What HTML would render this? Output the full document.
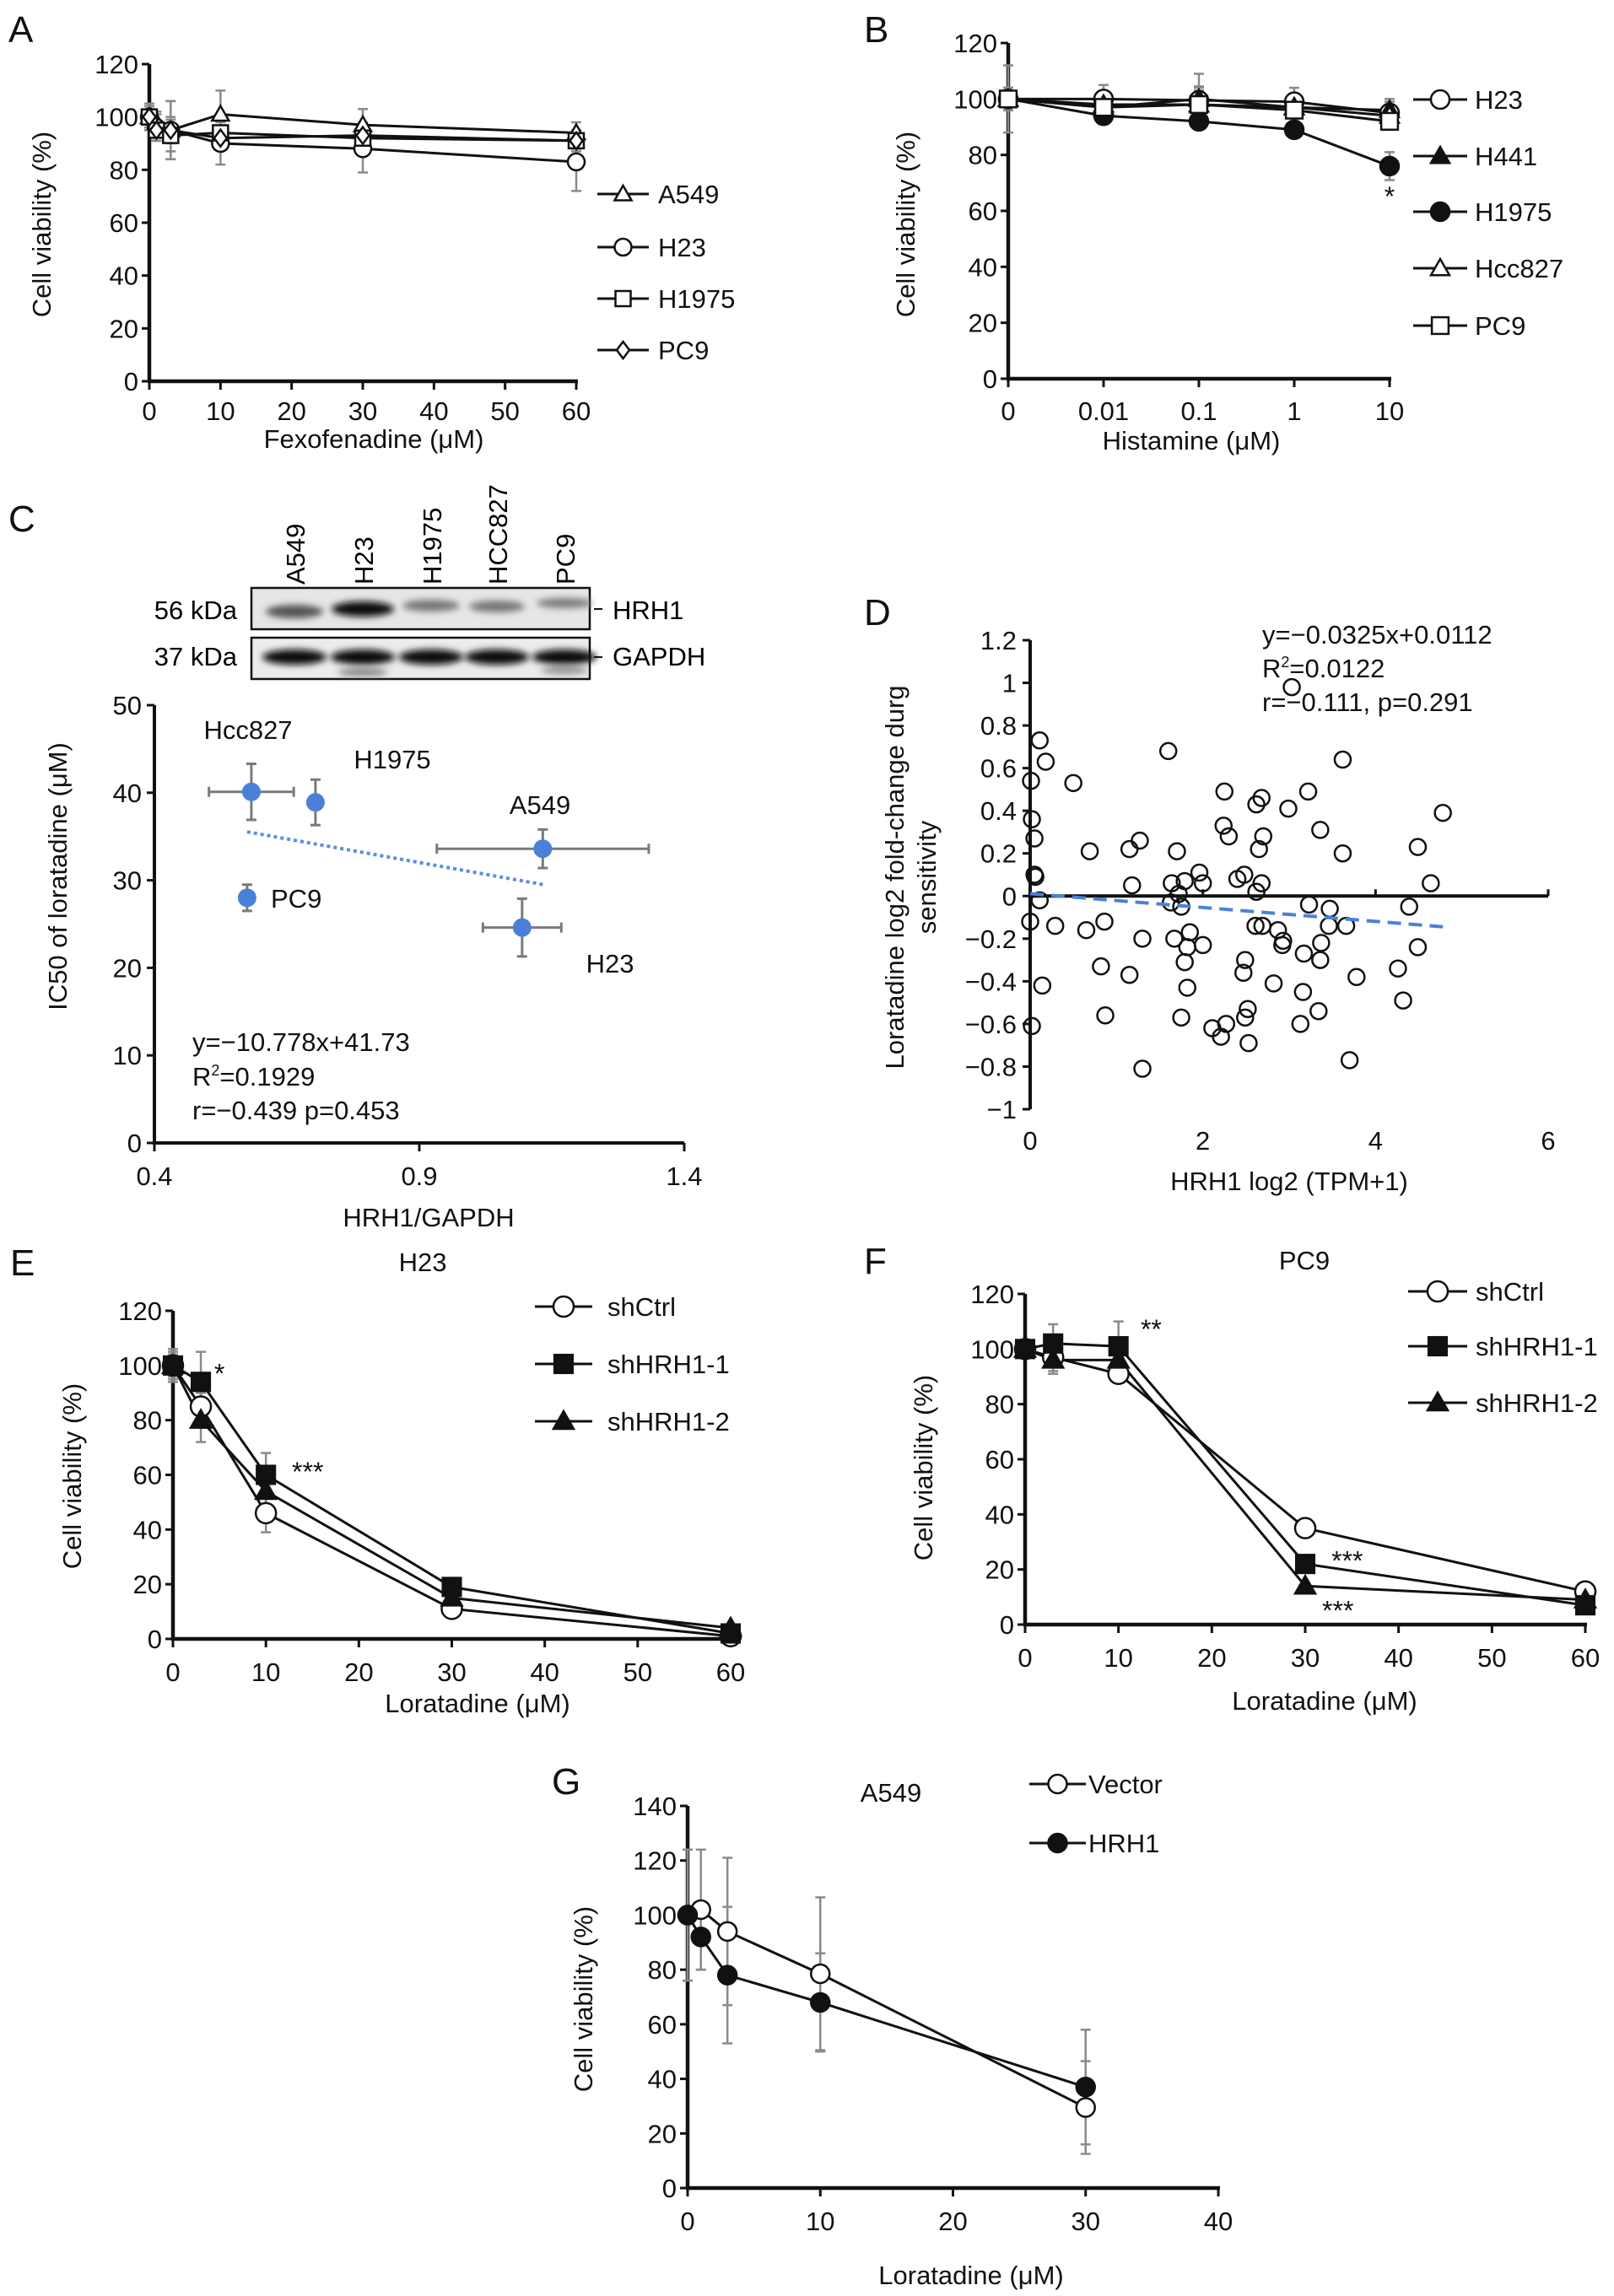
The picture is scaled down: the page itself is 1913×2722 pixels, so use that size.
<!DOCTYPE html>
<html><head><meta charset="utf-8">
<style>
html,body{margin:0;padding:0;background:#fff;}
svg{display:block;font-family:"Liberation Sans",Arial,sans-serif;}
</style></head>
<body>
<svg id="fig" width="1913" height="2722" viewBox="0 0 1913 2722" xmlns="http://www.w3.org/2000/svg">
<defs>
<filter id="blur4" x="-20%" y="-50%" width="140%" height="200%"><feGaussianBlur stdDeviation="4"/></filter>
</defs>
<g>
  <rect x="298" y="697" width="401" height="49" fill="#e6e6e6" stroke="#111" stroke-width="2.5"/>
  <rect x="298" y="756" width="401" height="49" fill="#ececec" stroke="#111" stroke-width="2.5"/>
  <g filter="url(#blur4)">
    <ellipse cx="349" cy="725" rx="34" ry="8" fill="#555"/>
    <ellipse cx="430" cy="722" rx="37" ry="9" fill="#111"/>
    <ellipse cx="511" cy="718" rx="34" ry="7" fill="#777"/>
    <ellipse cx="589" cy="719" rx="33" ry="7" fill="#777"/>
    <ellipse cx="669" cy="715" rx="33" ry="6" fill="#7a7a7a"/>
    <ellipse cx="349" cy="779" rx="38" ry="9" fill="#111"/>
    <ellipse cx="430" cy="779" rx="38" ry="9" fill="#111"/>
    <ellipse cx="511" cy="779" rx="38" ry="9" fill="#111"/>
    <ellipse cx="589" cy="779" rx="38" ry="9" fill="#111"/>
    <ellipse cx="669" cy="779" rx="38" ry="9" fill="#111"/>
    <ellipse cx="430" cy="797" rx="30" ry="4" fill="#777"/>
    <ellipse cx="669" cy="795" rx="28" ry="4" fill="#888"/>
  </g>
  <text x="281" y="734" font-size="31" text-anchor="end">56 kDa</text>
  <text x="281" y="789" font-size="31" text-anchor="end">37 kDa</text>
  <line x1="704" y1="722" x2="714" y2="722" stroke="#111" stroke-width="2"/>
  <line x1="704" y1="779" x2="714" y2="779" stroke="#111" stroke-width="2"/>
  <text x="726" y="734" font-size="31">HRH1</text>
  <text x="726" y="789" font-size="31">GAPDH</text>
  <text transform="translate(361,693) rotate(-90)" font-size="31">A549</text>
  <text transform="translate(442,693) rotate(-90)" font-size="31">H23</text>
  <text transform="translate(523,693) rotate(-90)" font-size="31">H1975</text>
  <text transform="translate(601,693) rotate(-90)" font-size="31">HCC827</text>
  <text transform="translate(681,693) rotate(-90)" font-size="31">PC9</text>
</g>
</svg>
<script>
// ---------- Panel A data ----------
const A_x = [0, 1, 3, 10, 30, 60];
const A_ticks = [0, 10, 20, 30, 40, 50, 60];
const A_A549 = [100, 98, 95, 101, 97, 94];
const A_A549_err = [5, 4, 11, 9, 6, 4];
const A_H23 = [100, 96, 95, 90, 88, 83];
const A_H23_err = [5, 5, 11, 8, 9, 11];
const A_H1975 = [100, 95, 93, 94, 92, 91];
const A_H1975_err = [5, 4, 6, 5, 5, 4];
const A_PC9 = [100, 95, 95, 92, 93, 91];
const A_PC9_err = [4, 4, 5, 4, 5, 3];
// ---------- Panel B data ----------
const B_x = [0, 1, 2, 3, 4];
const B_tickLabels = ['0', '0.01', '0.1', '1', '10'];
const B_H23 = [100, 100, 99.5, 99, 95];
const B_H23_err = [12, 5, 5, 5, 4];
const B_H441 = [100, 97, 100, 97, 96];
const B_H441_err = [4, 4, 9, 5, 4];
const B_H1975 = [100, 94, 92, 89, 76];
const B_H1975_err = [4, 3, 3, 3, 5];
const B_Hcc827 = [100, 98, 98, 97, 94];
const B_Hcc827_err = [4, 4, 6, 4, 4];
const B_PC9 = [100, 97, 98, 96, 92];
const B_PC9_err = [4, 4, 5, 4, 3];
// ---------- Panel C data ----------
const C_names = ['Hcc827', 'H1975', 'A549', 'PC9', 'H23'];
const C_x = [0.583, 0.704, 1.133, 0.575, 1.094];
const C_y = [40.1, 38.9, 33.6, 28.0, 24.6];
const C_xerr = [0.08, 0, 0.2, 0, 0.074];
const C_yerr = [3.2, 2.6, 2.2, 1.5, 3.3];
const C_xticks = [0.4, 0.9, 1.4];
const C_yticks = [0, 10, 20, 30, 40, 50];
const C_fit = [-10.778, 41.73];
// ---------- Panel D data ----------
const D_x = [0.11,0.18,0.01,0.02,0.05,0.05,0.06,0.11,0.0,0.14,0.02,0.29,0.50,0.69,0.65,0.86,0.82,0.87,1.15,1.30,1.30,1.15,1.27,1.18,1.60,1.70,1.64,1.63,1.67,1.72,1.75,1.79,1.85,1.82,1.79,1.82,1.75,1.96,2.00,2.00,2.25,2.24,2.30,2.40,2.48,2.62,2.68,2.70,2.65,2.68,2.62,2.61,2.69,2.49,2.47,2.52,2.49,2.53,2.11,2.21,2.27,2.82,2.87,2.92,2.93,2.99,3.03,3.22,3.36,3.62,3.23,3.17,3.16,3.13,3.37,3.36,3.34,3.47,3.46,3.66,3.78,3.70,3.62,4.26,4.32,4.39,4.49,4.49,4.64,4.78];
const D_y = [0.73,0.63,0.54,0.36,0.27,0.10,0.09,-0.02,-0.12,-0.42,-0.61,-0.14,0.53,0.21,-0.16,-0.12,-0.33,-0.56,-0.37,-0.20,-0.81,0.22,0.26,0.05,0.68,0.21,0.06,-0.03,-0.20,0.01,-0.05,0.07,-0.17,-0.24,-0.31,-0.43,-0.57,0.11,0.06,-0.23,0.49,0.33,0.28,0.08,0.10,0.43,0.46,0.28,0.22,0.06,0.02,-0.14,-0.14,-0.30,-0.36,-0.53,-0.57,-0.69,-0.62,-0.66,-0.60,-0.41,-0.16,-0.23,-0.21,0.41,0.98,0.49,0.31,0.20,-0.04,-0.27,-0.45,-0.60,-0.22,-0.30,-0.54,-0.06,-0.14,-0.14,-0.38,-0.77,0.64,-0.34,-0.49,-0.05,0.23,-0.24,0.06,0.39];
const D_xticks = [0, 2, 4, 6];
const D_yticks = [1.2, 1, 0.8, 0.6, 0.4, 0.2, 0, -0.2, -0.4, -0.6, -0.8, -1];
const D_fit = [-0.0325, 0.0112];
const D_fitRange = [0, 4.78];
// ---------- Panel E data ----------
const E_x = [0, 3, 10, 30, 60];
const E_ticks = [0, 10, 20, 30, 40, 50, 60];
const E_shCtrl = [100, 85, 46, 11, 1];
const E_shCtrl_err = [4, 5, 7, 2, 1];
const E_sh1 = [100, 94, 60, 19, 2];
const E_sh1_err = [6, 11, 8, 2, 1];
const E_sh2 = [100, 80, 54, 15, 4];
const E_sh2_err = [5, 8, 5, 2, 1];
// ---------- Panel F data ----------
const F_x = [0, 3, 10, 30, 60];
const F_ticks = [0, 10, 20, 30, 40, 50, 60];
const F_shCtrl = [100, 97, 91, 35, 12];
const F_shCtrl_err = [3, 5, 3, 2, 1];
const F_sh1 = [100, 102, 101, 22, 7];
const F_sh1_err = [3, 7, 9, 2, 1];
const F_sh2 = [100, 96, 96, 14, 9];
const F_sh2_err = [3, 5, 4, 1, 1];
// ---------- Panel G data ----------
const G_x = [0, 1, 3, 10, 30];
const G_ticks = [0, 10, 20, 30, 40];
const G_vector = [100, 102, 94, 78.5, 29.5];
const G_vector_err = [24, 22, 27, 28, 17];
const G_hrh1 = [100, 92, 78, 68, 37];
const G_hrh1_err = [24, 12, 25, 18, 21];

const FS = 31;
const NS = 'http://www.w3.org/2000/svg';
const svg = document.getElementById('fig');

function mk(tag, attrs, name, parent) {
  const el = document.createElementNS(NS, tag);
  for (const k in attrs) el.setAttribute(k, attrs[k]);
  
  
  (parent || svg).appendChild(el);
  return el;
}
function txt(x, y, s, size, anchor, name, parent, extra) {
  const a = {x: x, y: y, 'font-size': size, 'text-anchor': anchor || 'start', fill: '#111'};
  if (extra) for (const k in extra) a[k] = extra[k];
  const t = mk('text', a, name, parent);
  t.textContent = s;
  return t;
}
function lin(d0, d1, p0, p1) { return v => p0 + (v - d0) * (p1 - p0) / (d1 - d0); }
function fmt(v) { return v < 0 ? '\u2212' + String(-v) : String(v); }

function marker(g, shape, filled, cx, cy, r, name) {
  const fill = filled ? '#111' : '#fff';
  const st = {fill: fill, stroke: '#111', 'stroke-width': 2.5};
  let el;
  if (shape === 'circle') {
    el = mk('circle', Object.assign({cx: cx, cy: cy, r: r}, st), name, g);
  } else if (shape === 'square') {
    const s = r * 0.9;
    el = mk('rect', Object.assign({x: cx - s, y: cy - s, width: 2 * s, height: 2 * s}, st), name, g);
  } else if (shape === 'triangle') {
    el = mk('polygon', Object.assign({points: `${cx},${cy - r} ${cx - r},${cy + 0.75 * r} ${cx + r},${cy + 0.75 * r}`}, st), name, g);
  } else {
    el = mk('polygon', Object.assign({points: `${cx},${cy - r} ${cx - 0.75 * r},${cy} ${cx},${cy + r} ${cx + 0.75 * r},${cy}`}, st), name, g);
  }
  return el;
}

function linePanel(p) {
  const g = mk('g', {}, p.name);
  const X = lin(p.xd[0], p.xd[1], p.xp[0], p.xp[1]);
  const Y = lin(0, p.ymax, p.y0, p.ytop);
  mk('line', {x1: p.xp[0], y1: p.y0, x2: p.xp[0], y2: p.ytop, stroke: '#111', 'stroke-width': 4.5}, 'y-axis', g);
  mk('line', {x1: p.xp[0] - 2, y1: p.y0, x2: X(p.xtickVals[p.xtickVals.length - 1]) + 2, y2: p.y0, stroke: '#111', 'stroke-width': 4.5}, 'x-axis', g);
  for (let v = 0; v <= p.ymax; v += p.ystep) {
    mk('line', {x1: p.xp[0] - 9, y1: Y(v), x2: p.xp[0], y2: Y(v), stroke: '#111', 'stroke-width': 3}, 'y-tick', g);
    txt(p.xp[0] - 13, Y(v) + 11, String(v), FS, 'end', 'y-tick-label', g);
  }
  p.xtickVals.forEach((v, i) => {
    mk('line', {x1: X(v), y1: p.y0, x2: X(v), y2: p.y0 + 10, stroke: '#111', 'stroke-width': 3}, 'x-tick', g);
    txt(X(v), p.tickLabelY, p.xtickLabels ? p.xtickLabels[i] : String(v), FS, 'middle', 'x-tick-label', g);
  });
  txt(p.xtitle[0], p.xtitle[1], p.xtitle[2], FS, 'middle', 'x-axis-title', g);
  txt(0, 0, 'Cell viability (%)', FS, 'middle', 'y-axis-title', g, {transform: `translate(${p.ytitle[0]},${p.ytitle[1]}) rotate(-90)`});
  txt(p.letter[0], p.letter[1], p.letter[2], 44, 'start', 'panel-label', g);
  if (p.title) txt(p.title[0], p.title[1], p.title[2], FS, 'middle', 'panel-title', g);
  p.series.forEach(s => {
    s.vals.forEach((v, i) => {
      const e = s.err[i]; if (!e) return;
      const x = X(p.xs[i]);
      mk('line', {x1: x, y1: Y(v - e), x2: x, y2: Y(v + e), stroke: '#8a8a8a', 'stroke-width': 2.5}, 'error-bar', g);
      mk('line', {x1: x - 6, y1: Y(v + e), x2: x + 6, y2: Y(v + e), stroke: '#8a8a8a', 'stroke-width': 2.5}, 'error-cap', g);
      mk('line', {x1: x - 6, y1: Y(v - e), x2: x + 6, y2: Y(v - e), stroke: '#8a8a8a', 'stroke-width': 2.5}, 'error-cap', g);
    });
  });
  p.series.forEach(s => {
    const pts = s.vals.map((v, i) => X(p.xs[i]) + ',' + Y(v)).join(' ');
    mk('polyline', {points: pts, fill: 'none', stroke: '#111', 'stroke-width': 3}, 'line-' + s.key, g);
  });
  p.series.forEach(s => {
    s.vals.forEach((v, i) => marker(g, s.shape, s.filled, X(p.xs[i]), Y(v), p.r, 'point-' + s.key));
  });
  p.series.forEach((s, i) => {
    const ly = p.leg.ys[i];
    mk('line', {x1: p.leg.x0, y1: ly, x2: p.leg.x1, y2: ly, stroke: '#111', 'stroke-width': 3}, 'legend-line', g);
    marker(g, s.shape, s.filled, (p.leg.x0 + p.leg.x1) / 2, ly, p.r, 'legend-marker-' + s.key);
    txt(p.leg.tx, ly + 11, s.label, FS, 'start', 'legend-entry-' + s.key, g);
  });
  (p.stars || []).forEach(st => txt(X(st[0]), Y(st[1]) + 14, st[2], 32, 'middle', 'significance-stars', g));
  return g;
}

linePanel({name: 'panel-a', xd: [0, 60], xp: [177, 683], y0: 452, ytop: 76, ymax: 120, ystep: 20,
  xs: A_x, xtickVals: A_ticks, tickLabelY: 498, xtitle: [443, 531, 'Fexofenadine (\u03bcM)'], ytitle: [60, 266],
  letter: [10, 50, 'A'], r: 10,
  series: [
    {key: 'a549', label: 'A549', vals: A_A549, err: A_A549_err, shape: 'triangle', filled: false},
    {key: 'h23', label: 'H23', vals: A_H23, err: A_H23_err, shape: 'circle', filled: false},
    {key: 'h1975', label: 'H1975', vals: A_H1975, err: A_H1975_err, shape: 'square', filled: false},
    {key: 'pc9', label: 'PC9', vals: A_PC9, err: A_PC9_err, shape: 'diamond', filled: false}],
  leg: {x0: 708, x1: 769, tx: 780, ys: [230, 293, 354, 415]}});

linePanel({name: 'panel-b', xd: [0, 4], xp: [1195, 1647], y0: 449, ytop: 51, ymax: 120, ystep: 20,
  xs: B_x, xtickVals: B_x, xtickLabels: B_tickLabels, tickLabelY: 498, xtitle: [1412, 533, 'Histamine (\u03bcM)'], ytitle: [1084, 266],
  letter: [1024, 50, 'B'], r: 11,
  series: [
    {key: 'h23', label: 'H23', vals: B_H23, err: B_H23_err, shape: 'circle', filled: false},
    {key: 'h441', label: 'H441', vals: B_H441, err: B_H441_err, shape: 'triangle', filled: true},
    {key: 'h1975', label: 'H1975', vals: B_H1975, err: B_H1975_err, shape: 'circle', filled: true},
    {key: 'hcc827', label: 'Hcc827', vals: B_Hcc827, err: B_Hcc827_err, shape: 'triangle', filled: false},
    {key: 'pc9', label: 'PC9', vals: B_PC9, err: B_PC9_err, shape: 'square', filled: false}],
  leg: {x0: 1675, x1: 1739, tx: 1748, ys: [118, 185, 251, 318, 386]},
  stars: [[4, 66, '*']]});

linePanel({name: 'panel-e', xd: [0, 60], xp: [205, 866], y0: 1943, ytop: 1554, ymax: 120, ystep: 20,
  xs: E_x, xtickVals: E_ticks, tickLabelY: 1993, xtitle: [566, 2030, 'Loratadine (\u03bcM)'], ytitle: [96, 1750],
  letter: [12, 1512, 'E'], title: [501, 1507, 'H23'], r: 12,
  series: [
    {key: 'shctrl', label: 'shCtrl', vals: E_shCtrl, err: E_shCtrl_err, shape: 'circle', filled: false},
    {key: 'shhrh1-1', label: 'shHRH1-1', vals: E_sh1, err: E_sh1_err, shape: 'square', filled: true},
    {key: 'shhrh1-2', label: 'shHRH1-2', vals: E_sh2, err: E_sh2_err, shape: 'triangle', filled: true}],
  leg: {x0: 634, x1: 702, tx: 720, ys: [1549, 1617, 1685]},
  stars: [[5, 98, '*'], [14.5, 62, '***']]});

linePanel({name: 'panel-f', xd: [0, 60], xp: [1215, 1879], y0: 1926, ytop: 1534, ymax: 120, ystep: 20,
  xs: F_x, xtickVals: F_ticks, tickLabelY: 1976, xtitle: [1570, 2027, 'Loratadine (\u03bcM)'], ytitle: [1105, 1740],
  letter: [1024, 1510, 'F'], title: [1546, 1505, 'PC9'], r: 12,
  series: [
    {key: 'shctrl', label: 'shCtrl', vals: F_shCtrl, err: F_shCtrl_err, shape: 'circle', filled: false},
    {key: 'shhrh1-1', label: 'shHRH1-1', vals: F_sh1, err: F_sh1_err, shape: 'square', filled: true},
    {key: 'shhrh1-2', label: 'shHRH1-2', vals: F_sh2, err: F_sh2_err, shape: 'triangle', filled: true}],
  leg: {x0: 1669, x1: 1739, tx: 1749, ys: [1531, 1596, 1663]},
  stars: [[13.5, 108, '**'], [34.5, 24, '***'], [33.5, 6, '***']]});

linePanel({name: 'panel-g', xd: [0, 40], xp: [815, 1444], y0: 2594, ytop: 2141, ymax: 140, ystep: 20,
  xs: G_x, xtickVals: G_ticks, tickLabelY: 2644, xtitle: [1151, 2708, 'Loratadine (\u03bcM)'], ytitle: [702, 2370],
  letter: [654, 2127, 'G'], title: [1056, 2136, 'A549'], r: 11,
  series: [
    {key: 'vector', label: 'Vector', vals: G_vector, err: G_vector_err, shape: 'circle', filled: false},
    {key: 'hrh1', label: 'HRH1', vals: G_hrh1, err: G_hrh1_err, shape: 'circle', filled: true}],
  leg: {x0: 1220, x1: 1287, tx: 1290, ys: [2115, 2185]}});

(function () {
  const g = mk('g', {}, 'panel-c');
  const X = lin(0.4, 1.4, 183, 811);
  const Y = lin(0, 50, 1355, 836);
  txt(10, 630, 'C', 44, 'start', 'panel-label', g);
  mk('line', {x1: 183, y1: 1355, x2: 183, y2: 836, stroke: '#111', 'stroke-width': 4}, 'y-axis', g);
  mk('line', {x1: 181, y1: 1355, x2: 811, y2: 1355, stroke: '#111', 'stroke-width': 4}, 'x-axis', g);
  C_yticks.forEach(v => {
    mk('line', {x1: 174, y1: Y(v), x2: 183, y2: Y(v), stroke: '#111', 'stroke-width': 3}, 'y-tick', g);
    txt(168, Y(v) + 11, String(v), FS, 'end', 'y-tick-label', g);
  });
  C_xticks.forEach(v => {
    mk('line', {x1: X(v), y1: 1355, x2: X(v), y2: 1365, stroke: '#111', 'stroke-width': 3}, 'x-tick', g);
    txt(X(v), 1405, String(v), FS, 'middle', 'x-tick-label', g);
  });
  txt(508, 1454, 'HRH1/GAPDH', FS, 'middle', 'x-axis-title', g);
  txt(0, 0, 'IC50 of loratadine (\u03bcM)', FS, 'middle', 'y-axis-title', g, {transform: 'translate(79,1039) rotate(-90)'});
  const fx0 = Math.min(...C_x), fx1 = Math.max(...C_x);
  mk('line', {x1: X(fx0), y1: Y(C_fit[0] * fx0 + C_fit[1]), x2: X(fx1), y2: Y(C_fit[0] * fx1 + C_fit[1]), stroke: '#5b8ee0', 'stroke-width': 4, 'stroke-dasharray': '4 4'}, 'trend-line', g);
  C_x.forEach((xv, i) => {
    const cx = X(xv), cy = Y(C_y[i]);
    const gc = '#7a7a7a';
    if (C_xerr[i]) {
      mk('line', {x1: X(xv - C_xerr[i]), y1: cy, x2: X(xv + C_xerr[i]), y2: cy, stroke: gc, 'stroke-width': 3}, 'x-error-bar', g);
      mk('line', {x1: X(xv - C_xerr[i]), y1: cy - 6, x2: X(xv - C_xerr[i]), y2: cy + 6, stroke: gc, 'stroke-width': 3}, 'x-error-cap', g);
      mk('line', {x1: X(xv + C_xerr[i]), y1: cy - 6, x2: X(xv + C_xerr[i]), y2: cy + 6, stroke: gc, 'stroke-width': 3}, 'x-error-cap', g);
    }
    mk('line', {x1: cx, y1: Y(C_y[i] - C_yerr[i]), x2: cx, y2: Y(C_y[i] + C_yerr[i]), stroke: gc, 'stroke-width': 3}, 'y-error-bar', g);
    mk('line', {x1: cx - 6, y1: Y(C_y[i] - C_yerr[i]), x2: cx + 6, y2: Y(C_y[i] - C_yerr[i]), stroke: gc, 'stroke-width': 3}, 'y-error-cap', g);
    mk('line', {x1: cx - 6, y1: Y(C_y[i] + C_yerr[i]), x2: cx + 6, y2: Y(C_y[i] + C_yerr[i]), stroke: gc, 'stroke-width': 3}, 'y-error-cap', g);
    mk('circle', {cx: cx, cy: cy, r: 11, fill: '#4a80d8'}, 'point-' + C_names[i].toLowerCase(), g);
  });
  txt(294, 876, 'Hcc827', FS, 'middle', 'label-hcc827', g);
  txt(465, 911, 'H1975', FS, 'middle', 'label-h1975', g);
  txt(640, 965, 'A549', FS, 'middle', 'label-a549', g);
  txt(321, 1076, 'PC9', FS, 'start', 'label-pc9', g);
  txt(723, 1153, 'H23', FS, 'middle', 'label-h23', g);
  txt(228, 1246, 'y=\u221210.778x+41.73', FS, 'start', 'regression-equation', g);
  const r2 = txt(228, 1287, 'R', FS, 'start', 'r-squared', g);
  const sup = document.createElementNS(NS, 'tspan'); sup.setAttribute('font-size', '18'); sup.setAttribute('dy', '-12'); sup.textContent = '2'; r2.appendChild(sup);
  const rest = document.createElementNS(NS, 'tspan'); rest.setAttribute('dy', '12'); rest.textContent = '=0.1929'; r2.appendChild(rest);
  txt(228, 1327, 'r=\u22120.439 p=0.453', FS, 'start', 'correlation-stats', g);
})();

(function () {
  const g = mk('g', {}, 'panel-d');
  const X = lin(0, 6, 1221, 1835);
  const Y = lin(-1, 1.2, 1315, 759);
  txt(1024, 741, 'D', 44, 'start', 'panel-label', g);
  mk('line', {x1: 1221, y1: 759, x2: 1221, y2: 1315, stroke: '#111', 'stroke-width': 4}, 'y-axis', g);
  mk('line', {x1: 1221, y1: Y(0), x2: 1835, y2: Y(0), stroke: '#111', 'stroke-width': 4}, 'x-axis', g);
  D_yticks.forEach(v => {
    mk('line', {x1: 1212, y1: Y(v), x2: 1221, y2: Y(v), stroke: '#111', 'stroke-width': 3}, 'y-tick', g);
    txt(1205, Y(v) + 11, fmt(v), FS, 'end', 'y-tick-label', g);
  });
  D_xticks.forEach(v => {
    if (v > 0) mk('line', {x1: X(v), y1: Y(0) - 8, x2: X(v), y2: Y(0), stroke: '#111', 'stroke-width': 3}, 'x-tick', g);
    txt(X(v), 1363, String(v), FS, 'middle', 'x-tick-label', g);
  });
  txt(1528, 1411, 'HRH1 log2 (TPM+1)', FS, 'middle', 'x-axis-title', g);
  txt(0, 0, 'Loratadine log2 fold-change durg', FS, 'middle', 'y-axis-title', g, {transform: 'translate(1071,1040) rotate(-90)'});
  txt(0, 0, 'sensitivity', FS, 'middle', 'y-axis-title-line2', g, {transform: 'translate(1109,1040) rotate(-90)'});
  D_x.forEach((xv, i) => {
    mk('circle', {cx: X(xv), cy: Y(D_y[i]), r: 9.5, fill: 'none', stroke: '#111', 'stroke-width': 2.5}, 'point', g);
  });
  mk('line', {x1: X(D_fitRange[0]), y1: Y(D_fit[0] * D_fitRange[0] + D_fit[1]), x2: X(D_fitRange[1]), y2: Y(D_fit[0] * D_fitRange[1] + D_fit[1]), stroke: '#4a80d8', 'stroke-width': 4, 'stroke-dasharray': '16 9'}, 'trend-line', g);
  txt(1496, 763, 'y=\u22120.0325x+0.0112', FS, 'start', 'regression-equation', g);
  const r2 = txt(1496, 803, 'R', FS, 'start', 'r-squared', g);
  const sup = document.createElementNS(NS, 'tspan'); sup.setAttribute('font-size', '18'); sup.setAttribute('dy', '-12'); sup.textContent = '2'; r2.appendChild(sup);
  const rest = document.createElementNS(NS, 'tspan'); rest.setAttribute('dy', '12'); rest.textContent = '=0.0122'; r2.appendChild(rest);
  txt(1496, 843, 'r=\u22120.111, p=0.291', FS, 'start', 'correlation-stats', g);
})();
</script>
</body></html>
